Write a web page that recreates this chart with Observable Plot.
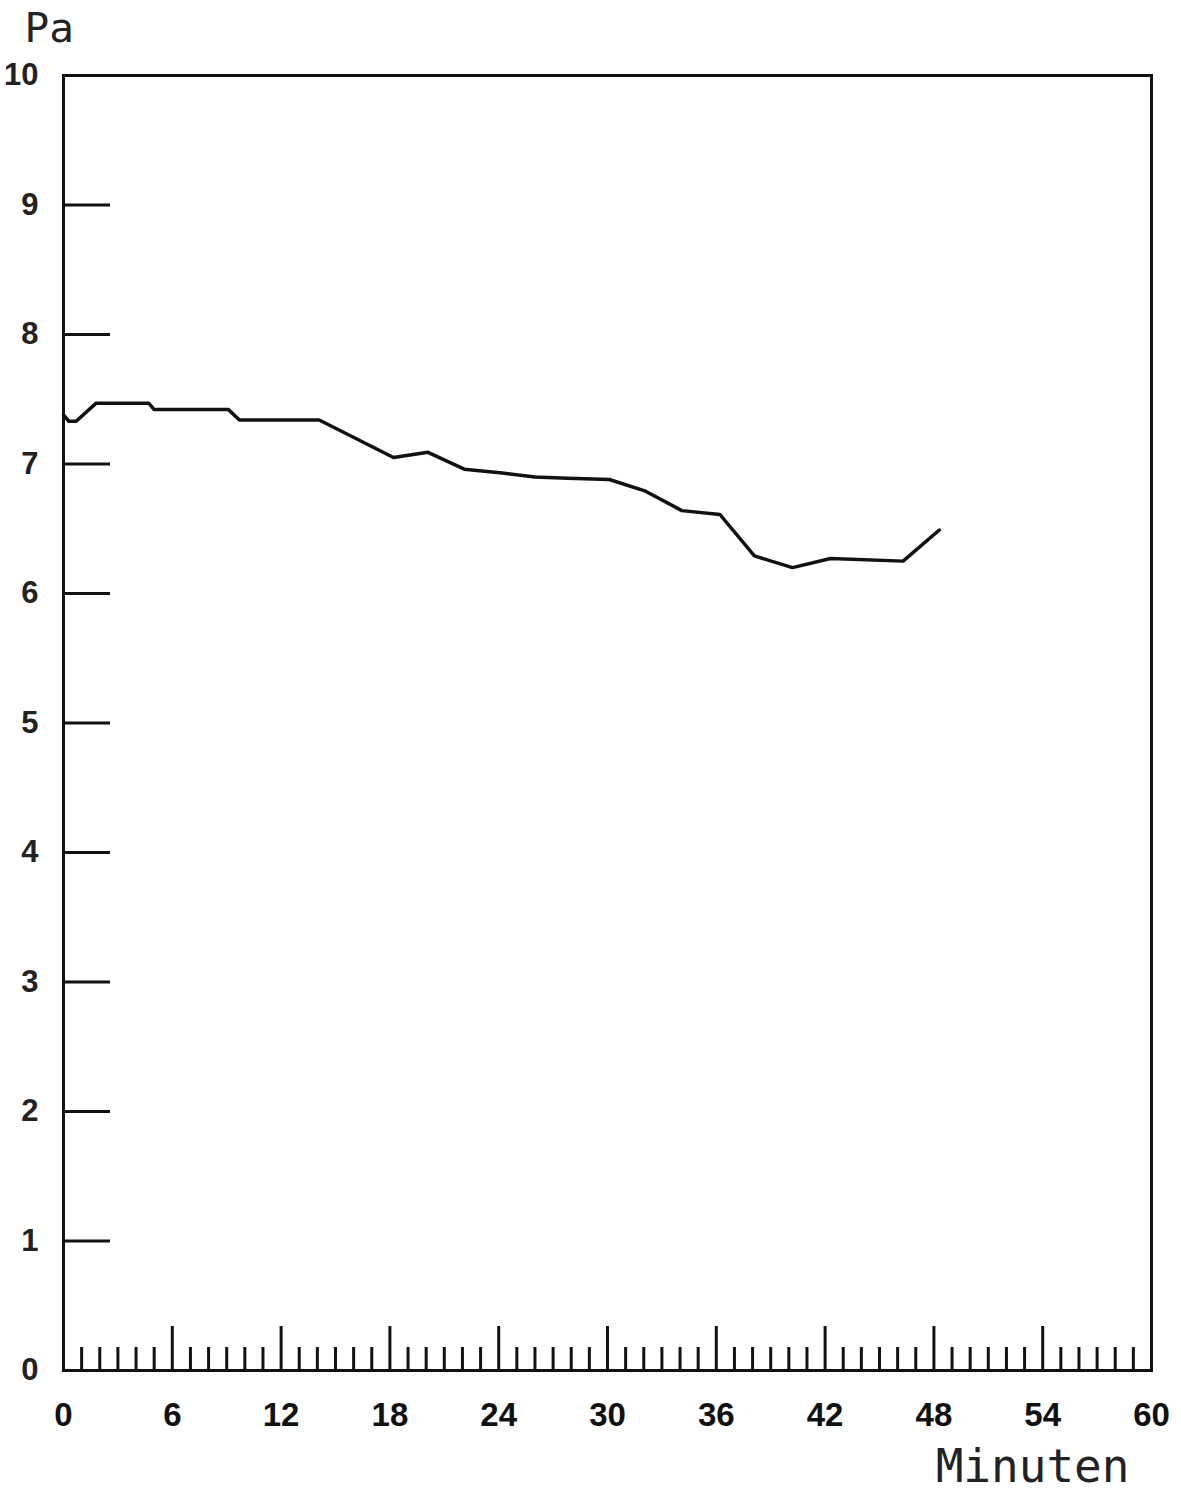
<!DOCTYPE html>
<html>
<head>
<meta charset="utf-8">
<script src="https://cdn.jsdelivr.net/npm/d3@7"></script>
<script src="https://cdn.jsdelivr.net/npm/@observablehq/plot@0.6"></script>
<style>
  html, body { margin: 0; padding: 0; background: #fff; }
  #chart svg { display: block; }
</style>
</head>
<body>
<div id="chart"></div>
<script>
// Data
const minutes  = [0, 0.3, 0.7, 1.8, 4.7, 5.0, 9.1, 9.7, 14.1, 18.2, 20.1, 22.1, 24.2, 26.0, 27.8, 30.1, 32.1, 34.1, 36.2, 38.1, 40.2, 42.3, 46.3, 48.3];
const pressure = [7.38, 7.33, 7.33, 7.47, 7.47, 7.42, 7.42, 7.34, 7.34, 7.05, 7.09, 6.96, 6.93, 6.90, 6.89, 6.88, 6.79, 6.64, 6.61, 6.29, 6.20, 6.27, 6.25, 6.49];

const yTickValues = [0, 1, 2, 3, 4, 5, 6, 7, 8, 9, 10];
const yInnerTicks = [1, 2, 3, 4, 5, 6, 7, 8, 9];
const xLabelValues = [0, 6, 12, 18, 24, 30, 36, 42, 48, 54, 60];
const xMajorTicks = [6, 12, 18, 24, 30, 36, 42, 48, 54];
const xMinorTicks = d3.range(1, 60).filter(d => d % 6 !== 0);

const yTitle = "Pa";
const xTitle = "Minuten";

const data = minutes.map((m, i) => ({minute: m, pa: pressure[i]}));

const labelFont = "'Liberation Sans', Arial, sans-serif";
const titleFont = "'DejaVu Sans Mono', 'Liberation Mono', monospace";

const chart = Plot.plot({
  width: 1181,
  height: 1493,
  marginLeft: 63,
  marginRight: 30,
  marginTop: 75,
  marginBottom: 123,
  style: {background: "#fff", color: "#111", overflow: "visible"},
  x: {domain: [0, 60], label: null},
  y: {domain: [0, 10], label: null},
  marks: [
    // inward y ticks
    Plot.axisY(yInnerTicks, {tickSize: -47, tickFormat: () => "", strokeWidth: 3, stroke: "#111", label: null}),
    // y labels
    Plot.axisY(yTickValues, {tickSize: 0, tickPadding: 25, tickFormat: d => String(d), fontSize: 31, fontWeight: "bold", fontFamily: labelFont, fill: "#222", textAnchor: "end", label: null}),
    // inward x minor ticks
    Plot.axisX(xMinorTicks, {tickSize: -23, tickFormat: () => "", strokeWidth: 3, stroke: "#111", label: null}),
    // inward x major ticks
    Plot.axisX(xMajorTicks, {tickSize: -44, tickFormat: () => "", strokeWidth: 3, stroke: "#111", label: null}),
    // x labels
    Plot.axisX(xLabelValues, {tickSize: 0, tickPadding: 32, tickFormat: d => String(d), fontSize: 33, fontWeight: "bold", fontFamily: labelFont, fill: "#111", label: null}),
    Plot.frame({stroke: "#111", strokeWidth: 3}),
    Plot.line(data, {x: "minute", y: "pa", stroke: "#111", strokeWidth: 3.5, strokeLinejoin: "round", strokeLinecap: "round"}),
    Plot.text([yTitle], {frameAnchor: "top-left", dx: -39, dy: -47, textAnchor: "start", lineAnchor: "middle", fontSize: 41, fontFamily: titleFont, fill: "#222"}),
    Plot.text([xTitle], {frameAnchor: "bottom-right", dx: -22, dy: 97, textAnchor: "end", lineAnchor: "middle", fontSize: 46, fontFamily: titleFont, fill: "#222"})
  ]
});

document.getElementById("chart").appendChild(chart);
</script>
</body>
</html>
